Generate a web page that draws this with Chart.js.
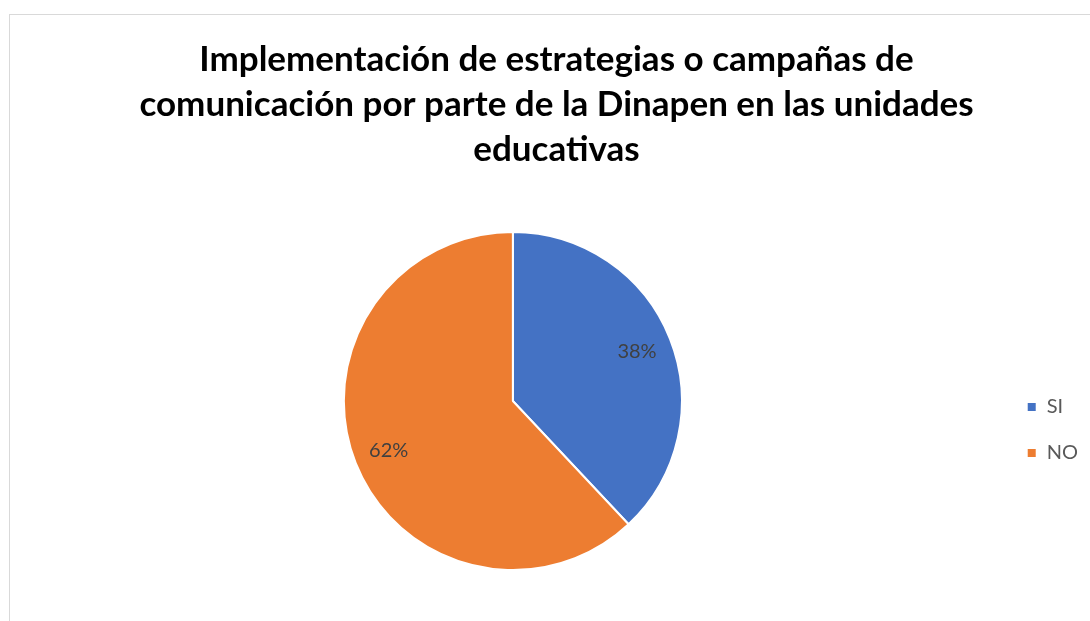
<!DOCTYPE html>
<html>
<head>
<meta charset="utf-8">
<script src="https://cdn.jsdelivr.net/npm/chart.js@4"></script>
<style>
  html, body { margin: 0; padding: 0; background: #fff; overflow: hidden; }
  #marco { position: absolute; left: 9px; top: 14px; width: 1100px; height: 640px; border: 1px solid #d9d9d9; }
  #lienzo { position: absolute; left: 10px; top: 15px; width: 1078px; height: 606px; }
</style>
</head>
<body>
<div id="marco"></div>
<div id="lienzo"><canvas id="graficoPie"></canvas></div>
<script>
// Datos del grafico
const categorias = ["SI", "NO"];
const porcentajes = [38, 62];
const colores = ["#4472C4", "#ED7D31"];
const titulo = [
    "Implementación de estrategias o campañas de",
    "comunicación por parte de la Dinapen en las unidades",
    "educativas"
];

// etiquetas de porcentaje dentro de cada porcion
const etiquetasPorcion = {
    id: 'etiquetasPorcion',
    afterDatasetsDraw(chart) {
        const ctx = chart.ctx;
        const meta = chart.getDatasetMeta(0);
        ctx.save();
        ctx.font = '20px Lato, "Open Sans", sans-serif';
        ctx.fillStyle = '#404040';
        ctx.textAlign = 'center';
        ctx.textBaseline = 'middle';
        meta.data.forEach((arco, i) => {
            const medio = (arco.startAngle + arco.endAngle) / 2;
            const r = arco.outerRadius * 0.79;
            const x = arco.x + Math.cos(medio) * r;
            const y = arco.y + Math.sin(medio) * r;
            ctx.fillText(porcentajes[i] + '%', x, y);
        });
        ctx.restore();
    }
};

const ctxPie = document.getElementById('graficoPie').getContext('2d');
new Chart(ctxPie, {
    type: 'pie',
    data: {
        labels: categorias,
        datasets: [{
            data: porcentajes,
            backgroundColor: colores,
            borderColor: '#ffffff',
            borderWidth: 2
        }]
    },
    options: {
        responsive: true,
        maintainAspectRatio: false,
        animation: false,
        layout: { padding: { left: 15, right: 0, top: 0, bottom: 50 } },
        plugins: {
            title: {
                display: true,
                text: titulo,
                color: '#000000',
                font: { family: 'Lato, "Open Sans", sans-serif', size: 35, weight: 'bold', lineHeight: 45 / 35 },
                padding: { top: 22.5, bottom: 58.5 }
            },
            legend: {
                position: 'right',
                align: 'start',
                // titulo vacio solo para bajar las entradas al centro
                title: { display: true, text: ' ', font: { size: 20 }, padding: { top: 332, bottom: 0 } },
                labels: {
                    color: '#595959',
                    font: { family: 'Lato, "Open Sans", sans-serif', size: 20 },
                    boxWidth: 10,
                    boxHeight: 10,
                    padding: 26
                }
            },
            tooltip: { enabled: false }
        }
    },
    plugins: [etiquetasPorcion]
});
</script>
</body>
</html>
